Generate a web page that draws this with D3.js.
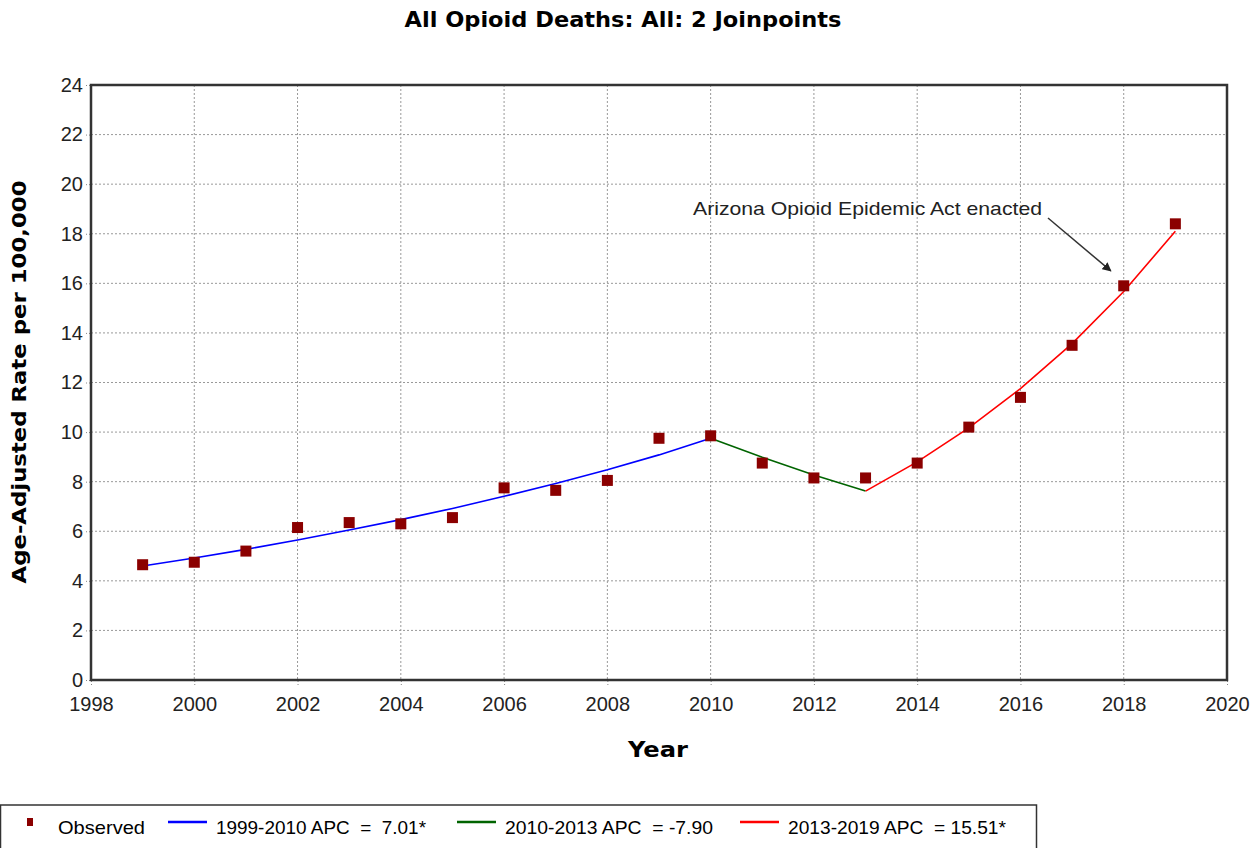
<!DOCTYPE html>
<html>
<head>
<meta charset="utf-8">
<script src="https://cdn.jsdelivr.net/npm/d3@7"></script>
<style>
  body { margin: 0; background: #fff; }
  svg { display: block; font-family: "Liberation Sans", Arial, sans-serif; }
  .grid line { stroke: #999; stroke-dasharray: 2,2; }
  .axis line { stroke: #888; stroke-dasharray: 2,2; }
  .axis text { font-size: 20px; fill: #222; }
  .pre { white-space: pre; }
</style>
</head>
<body>
<div id="chart"></div>
<script>
// observed age-adjusted rates
const years = d3.range(1999, 2020);
const observed = [4.65, 4.75, 5.2, 6.15, 6.35, 6.3, 6.55, 7.75, 7.65, 8.05, 9.75,
                  9.85, 8.75, 8.15, 8.15, 8.75, 10.2, 11.4, 13.5, 15.9, 18.4];

// joinpoint fitted segments
const seg1Years = d3.range(1999, 2011);
const seg1Fit = [4.6, 4.92, 5.27, 5.65, 6.05, 6.47, 6.92, 7.41, 7.93, 8.48, 9.08, 9.75];
const seg2Years = [2010, 2011, 2012, 2013];
const seg2Fit = [9.75, 8.98, 8.27, 7.62];
const seg3Years = d3.range(2013, 2020);
const seg3Fit = [7.62, 8.8, 10.17, 11.75, 13.57, 15.67, 18.1];

const segments = [
  { years: seg1Years, fit: seg1Fit, color: "#0000ff", label: "1999-2010 APC  =  7.01*" },
  { years: seg2Years, fit: seg2Fit, color: "#006400", label: "2010-2013 APC  = -7.90" },
  { years: seg3Years, fit: seg3Fit, color: "#ff0000", label: "2013-2019 APC  = 15.51*" }
];

const xTicks = d3.range(1998, 2021, 2);
const yTicks = d3.range(0, 25, 2);

const W = 1259, H = 848;
const m = { left: 91, right: 1227, top: 85, bottom: 680 };

const svg = d3.select("#chart").append("svg").attr("width", W).attr("height", H);

const x = d3.scaleLinear().domain([1998, 2020]).range([m.left, m.right]);
const y = d3.scaleLinear().domain([0, 24]).range([m.bottom, m.top]);

const bold = sel => sel.style("font-family", "'DejaVu Sans', Verdana, sans-serif").style("font-weight", "bold");

// title
svg.append("text").attr("x", 623).attr("y", 27).attr("text-anchor", "middle")
  .call(bold).style("font-size", "21px").attr("textLength", 437).attr("lengthAdjust", "spacingAndGlyphs")
  .text("All Opioid Deaths: All: 2 Joinpoints");

// grid
svg.append("g").attr("class", "grid")
  .selectAll("line.h").data(yTicks.slice(1, -1)).enter().append("line")
  .attr("x1", m.left).attr("x2", m.right).attr("y1", d => y(d)).attr("y2", d => y(d));
svg.append("g").attr("class", "grid")
  .selectAll("line.v").data(xTicks.slice(1, -1)).enter().append("line")
  .attr("y1", m.top).attr("y2", m.bottom).attr("x1", d => x(d)).attr("x2", d => x(d));

// axes
svg.append("g").attr("class", "axis").attr("transform", `translate(0,${m.bottom})`)
  .call(d3.axisBottom(x).tickValues(xTicks).tickFormat(d3.format("d")).tickSize(5).tickPadding(12));
svg.append("g").attr("class", "axis").attr("transform", `translate(${m.left},0)`)
  .call(d3.axisLeft(y).tickValues(yTicks).tickSize(5).tickPadding(3));
svg.selectAll(".axis .domain").remove();

// frame
svg.append("rect").attr("x", m.left).attr("y", m.top)
  .attr("width", m.right - m.left).attr("height", m.bottom - m.top)
  .attr("fill", "none").attr("stroke", "#333").attr("stroke-width", 2.5);

// axis titles
svg.append("text").attr("transform", `translate(26,382) rotate(-90)`).attr("text-anchor", "middle")
  .call(bold).style("font-size", "19px").attr("textLength", 403).attr("lengthAdjust", "spacingAndGlyphs")
  .text("Age-Adjusted Rate per 100,000");
svg.append("text").attr("x", 658).attr("y", 757).attr("text-anchor", "middle")
  .call(bold).style("font-size", "21px").attr("textLength", 60).attr("lengthAdjust", "spacingAndGlyphs")
  .text("Year");

// fitted lines
const line = d3.line().x(d => x(d[0])).y(d => y(d[1]));
segments.forEach(s => {
  svg.append("path").datum(s.years.map((yr, i) => [yr, s.fit[i]]))
    .attr("d", line).attr("fill", "none").attr("stroke", s.color).attr("stroke-width", 1.6);
});

// observed markers
svg.append("g").selectAll("rect").data(years.map((yr, i) => [yr, observed[i]])).enter()
  .append("rect").attr("x", d => x(d[0]) - 5.5).attr("y", d => y(d[1]) - 5.5)
  .attr("width", 11).attr("height", 11).attr("fill", "#8b0000");

// annotation
svg.append("defs").append("marker").attr("id", "arr").attr("viewBox", "0 0 10 10")
  .attr("refX", 9).attr("refY", 5).attr("markerWidth", 6).attr("markerHeight", 6)
  .attr("orient", "auto").append("path").attr("d", "M0,0L10,5L0,10z").attr("fill", "#222");
svg.append("text").attr("x", 693).attr("y", 215).style("font-size", "19px").attr("fill", "#222")
  .attr("textLength", 349).attr("lengthAdjust", "spacingAndGlyphs")
  .text("Arizona Opioid Epidemic Act enacted");
svg.append("line").attr("x1", 1048).attr("y1", 218).attr("x2", x(2017.75)).attr("y2", y(16.5))
  .attr("stroke", "#333").attr("stroke-width", 1.5).attr("marker-end", "url(#arr)");

// legend
const lg = svg.append("g");
lg.append("rect").attr("x", 0.5).attr("y", 805).attr("width", 1036).attr("height", 60)
  .attr("fill", "#fff").attr("stroke", "#333").attr("stroke-width", 1.5);
lg.append("rect").attr("x", 27).attr("y", 818).attr("width", 6).attr("height", 8).attr("fill", "#8b0000");
lg.append("text").attr("x", 58).attr("y", 834).style("font-size", "19px")
  .attr("textLength", 87).attr("lengthAdjust", "spacingAndGlyphs").text("Observed");
const legX = [168, 457, 740];
const legW = [210, 208, 218];
segments.forEach((s, i) => {
  lg.append("line").attr("x1", legX[i]).attr("x2", legX[i] + 39).attr("y1", 822).attr("y2", 822)
    .attr("stroke", s.color).attr("stroke-width", 2.5);
  lg.append("text").attr("class", "pre").attr("x", legX[i] + 48).attr("y", 834).style("font-size", "19px")
    .attr("textLength", legW[i]).attr("lengthAdjust", "spacingAndGlyphs").text(s.label);
});
</script>
</body>
</html>
